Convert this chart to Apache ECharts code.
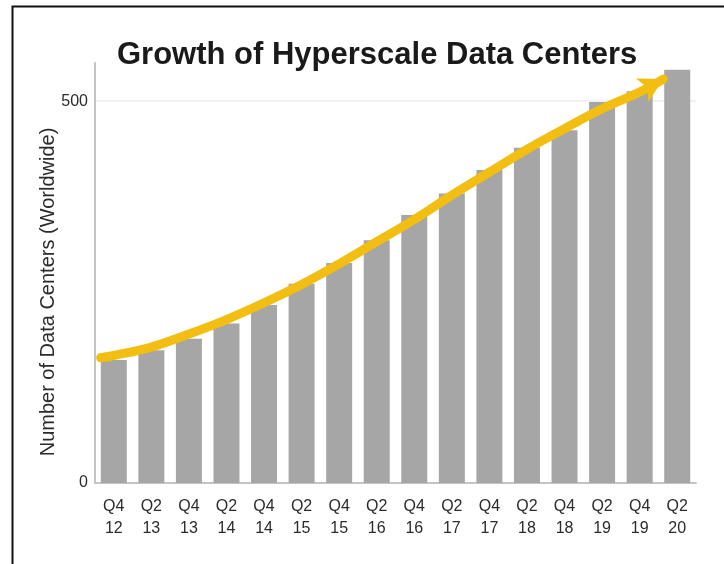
<!DOCTYPE html>
<html>
<head>
<meta charset="utf-8">
<style>
  html, body { margin: 0; padding: 0; background: #ffffff; }
  #chart { width: 724px; height: 564px; }
</style>
<script src="https://cdn.jsdelivr.net/npm/echarts@6/dist/echarts.min.js"></script>
</head>
<body>
<div id="chart"></div>
<script>
// ---- data ----
const titleText = 'Growth of Hyperscale Data Centers';
const yAxisTitle = 'Number of Data Centers (Worldwide)';
const categories = ['Q4\n12','Q2\n13','Q4\n13','Q2\n14','Q4\n14','Q2\n15','Q4\n15','Q2\n16',
                    'Q4\n16','Q2\n17','Q4\n17','Q2\n18','Q4\n18','Q2\n19','Q4\n19','Q2\n20'];
const barValues = [161, 174, 189, 209, 233, 261, 288, 318, 351, 379, 410, 439, 462, 499, 513, 541];
// trend arrow, in category-index units (x) and data-centre counts (y)
const arrowX = [-0.35, 0, 1, 2, 3, 4, 5, 6, 7, 8, 9, 10, 11, 12, 13, 14, 14.63];
const arrowY = [164, 167, 178, 195, 214, 236, 260, 287, 316, 345, 377, 407, 437, 464, 490, 512, 529];
const yTickLabels = [0, 500];

const FONT = '"Liberation Sans", Arial, Helvetica, sans-serif';
const chart = echarts.init(document.getElementById('chart'), null, { renderer: 'canvas' });

const arrowData = arrowX.map((x, i) => {
  const item = { value: [x, arrowY[i]] };
  if (i === arrowX.length - 1) {
    item.symbol = 'arrow';
    item.symbolSize = [20, 24];
    item.symbolRotate = -62;
    item.itemStyle = { color: '#F3BE12' };
  }
  return item;
});

chart.setOption({
  animation: false,
  backgroundColor: '#ffffff',
  title: {
    text: titleText,
    left: 112,
    top: 35,
    textStyle: { fontFamily: FONT, fontSize: 31, fontWeight: 'bold', color: '#1a1a1a' }
  },
  grid: { left: 95, right: 28, top: 63, bottom: 81, containLabel: false },
  xAxis: [{
    type: 'category',
    data: categories,
    boundaryGap: true,
    axisLine: { show: true, lineStyle: { color: '#c4c4c4', width: 2 } },
    axisTick: { show: false },
    axisLabel: { fontFamily: FONT, fontSize: 16, color: '#2b2b2b', lineHeight: 22, margin: 13, interval: 0 }
  }, {
    type: 'value',
    min: -0.5, max: 15.5,
    show: false
  }],
  yAxis: {
    type: 'value',
    min: 0, max: 550, interval: 500,
    axisLine: { show: true, onZero: false, lineStyle: { color: '#c4c4c4', width: 2 } },
    axisTick: { show: false },
    axisLabel: {
      fontFamily: FONT, fontSize: 16, color: '#2b2b2b', margin: 7, showMaxLabel: false,
      formatter: v => (yTickLabels.indexOf(v) >= 0 ? String(v) : '')
    },
    splitLine: { show: true, lineStyle: { color: ['transparent', '#f1f1f1', 'transparent'], width: 2 } }
  },
  series: [{
    type: 'bar',
    data: barValues,
    barWidth: 26,
    itemStyle: { color: '#a6a6a6' },
    xAxisIndex: 0
  }, {
    type: 'line',
    xAxisIndex: 1,
    data: arrowData,
    smooth: 0.4,
    symbol: 'circle',
    symbolSize: 0,
    showSymbol: true,
    showAllSymbol: true,
    lineStyle: { color: '#F3BE12', width: 9, cap: 'round', join: 'round' },
    itemStyle: { color: '#F3BE12' },
    z: 5
  }],
  graphic: [{
    type: 'text',
    x: 48, y: 292,
    rotation: Math.PI / 2,
    style: {
      text: yAxisTitle,
      fontFamily: FONT, fontSize: 20, fill: '#2b2b2b',
      textAlign: 'center', textVerticalAlign: 'middle'
    }
  }, {
    type: 'polyline',
    shape: { points: [[12.5, 564], [12.5, 6.5], [724, 6.5]] },
    style: { stroke: '#111111', lineWidth: 2, fill: null }
  }]
});
</script>
</body>
</html>
